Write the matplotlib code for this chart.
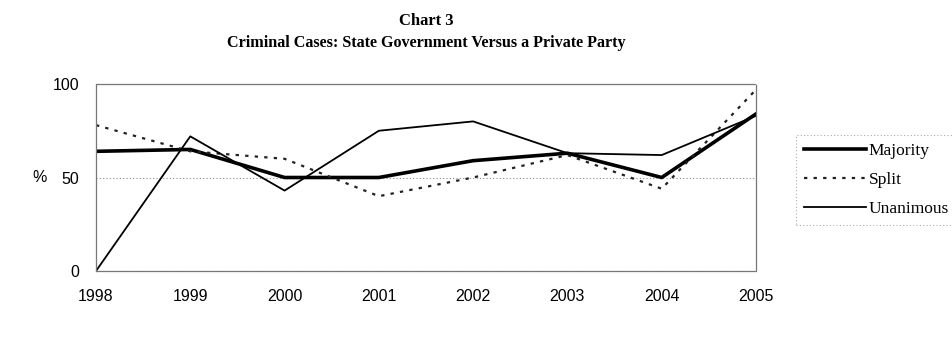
import matplotlib
matplotlib.use("Agg")
import matplotlib.pyplot as plt

years = [1998, 1999, 2000, 2001, 2002, 2003, 2004, 2005]
majority = [64, 65, 50, 50, 59, 63, 50, 84]
split = [78, 64, 60, 40, 50, 62, 44, 97]
unanimous = [0, 72, 43, 75, 80, 63, 62, 83]
yticks = [0, 50, 100]

fig = plt.figure(figsize=(9.53, 3.6), dpi=100)
ax = fig.add_axes([96/953, 1-271/360, (756-96)/953, (271-84)/360])

ax.plot(years, majority, color="black", lw=2.6, label="Majority", solid_joinstyle="round")
ax.plot(years, split, color="#222222", lw=1.6, ls=(0, (1.5, 2.8)), label="Split")
ax.plot(years, unanimous, color="black", lw=1.3, label="Unanimous")

ax.set_xlim(years[0], years[-1])
ax.set_ylim(0, 100)
ax.set_xticks(years)
ax.set_yticks(yticks)
ax.set_xticklabels([str(y) for y in years], fontsize=11.5, family="Liberation Sans")
ax.set_yticklabels([str(v) for v in yticks], fontsize=11.5, family="Liberation Sans")
ax.tick_params(axis="x", length=0, pad=13)
ax.tick_params(axis="y", length=0, pad=12)
ax.yaxis.grid(True, color="#888888", ls=(0, (1, 2)), lw=0.8)
for s in ax.spines.values():
    s.set_color("#777777")
    s.set_linewidth(0.9)
    s.set_linestyle((0, (1, 1)))

fig.text(40/953, 1-177/360, "%", fontsize=11.5, family="Liberation Sans", ha="center", va="center")

fig.text(426/953, 1-21/360, "Chart 3", fontsize=12, family="Liberation Serif",
         weight="bold", ha="center", va="center")
fig.text(426/953, 1-43/360, "Criminal Cases: State Government Versus a Private Party",
         fontsize=11.6, family="Liberation Serif", weight="bold", ha="center", va="center")

leg = ax.legend(loc="upper left", bbox_to_anchor=(796/953, 1-135/360), bbox_transform=fig.transFigure,
                prop={"family": "Liberation Serif", "size": 12.5}, frameon=True, fancybox=False,
                handlelength=3.6, handletextpad=0.15, borderpad=0.45, labelspacing=0.75,
                borderaxespad=0)
leg.get_frame().set_edgecolor("#999999")
leg.get_frame().set_linestyle((0, (1, 2)))
leg.get_frame().set_linewidth(0.8)

fig.savefig("out.png", dpi=100)
